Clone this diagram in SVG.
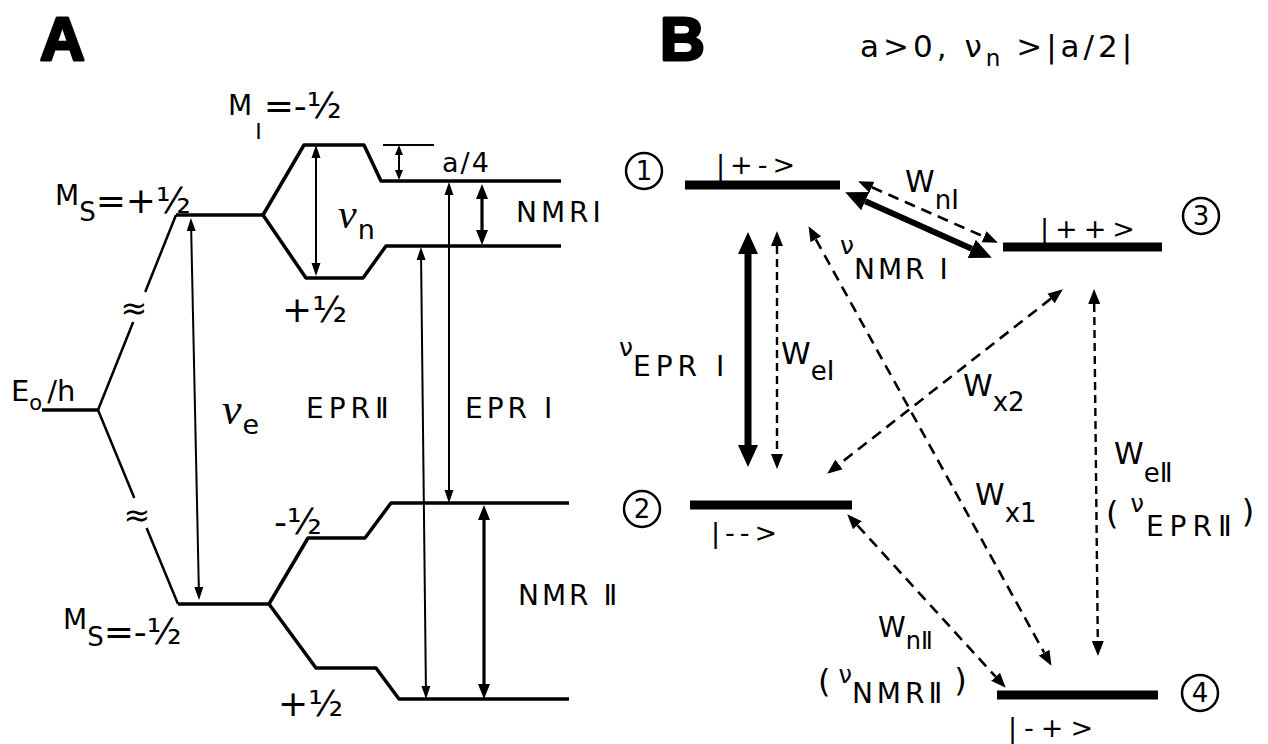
<svg xmlns="http://www.w3.org/2000/svg" width="1268" height="744" viewBox="0 0 1268 744">
<style>
.t{font-family:"DejaVu Sans","Liberation Sans",sans-serif;fill:#000}
.big{font-family:"Liberation Sans",sans-serif;font-weight:bold;font-size:62px;fill:#000;stroke:#000;stroke-width:3;stroke-linejoin:round}
.nu{font-family:"Liberation Serif",serif;font-style:italic;fill:#000}
.sub{font-family:"DejaVu Sans","Liberation Sans",sans-serif;font-style:normal}
.lv{fill:none;stroke:#000;stroke-width:3.5;stroke-linejoin:round}
.dg{fill:none;stroke:#000;stroke-width:2.5}
.bar{fill:none;stroke:#000;stroke-width:9}
.ar{fill:none;stroke:#000;stroke-width:2}
.arm{fill:none;stroke:#000;stroke-width:3.2}
.ath{fill:none;stroke:#000;stroke-width:7}
.ath2{fill:none;stroke:#000;stroke-width:6}
.da{fill:none;stroke:#000;stroke-width:2.6;stroke-dasharray:11 7}
.dv{fill:none;stroke:#000;stroke-width:2.4;stroke-dasharray:8 5}
.cir{fill:none;stroke:#000;stroke-width:2.5}
</style>
<defs>
<marker id="ha" markerUnits="userSpaceOnUse" markerWidth="16" markerHeight="12" refX="0" refY="6" orient="auto-start-reverse" viewBox="0 0 16 12"><path d="M0,1.5 L13,6 L0,10.5 z" fill="#000"/></marker>
<marker id="hs" markerUnits="userSpaceOnUse" markerWidth="12" markerHeight="10" refX="0" refY="5" orient="auto-start-reverse" viewBox="0 0 12 10"><path d="M0,1 L10,5 L0,9 z" fill="#000"/></marker>
<marker id="hm" markerUnits="userSpaceOnUse" markerWidth="18" markerHeight="14" refX="0" refY="7" orient="auto-start-reverse" viewBox="0 0 18 14"><path d="M0,1 L15,7 L0,13 z" fill="#000"/></marker>
<marker id="hb" markerUnits="userSpaceOnUse" markerWidth="24" markerHeight="22" refX="0" refY="11" orient="auto-start-reverse" viewBox="0 0 24 22"><path d="M0,1 L22,11 L0,21 z" fill="#000"/></marker>
<marker id="hd" markerUnits="userSpaceOnUse" markerWidth="17" markerHeight="13" refX="0" refY="6.5" orient="auto-start-reverse" viewBox="0 0 17 13"><path d="M0,0.5 L15,6.5 L0,12.5 z" fill="#000"/></marker>
</defs>
<rect width="1268" height="744" fill="#fff"/>

<!-- Panel A -->
<g id="panelA-title"><text class="big" x="40" y="60">A</text></g>

<g id="A-E0">
<path class="lv" d="M42,410 H98"/>
<text class="t" x="11" y="401" font-size="29">E<tspan font-size="21" dy="9">o</tspan><tspan font-size="29" dy="-9" dx="5">/h</tspan></text>
</g>

<g id="A-MS-plus">
<path class="dg" d="M176,215 L145.2,292 M133.2,322 L98,410"/>
<text class="t" x="134" y="319" font-size="32" text-anchor="middle">≈</text>
<path class="lv" d="M176,215 H263"/>
<text class="t" x="55" y="205" font-size="28">M<tspan font-size="26" dy="16">S</tspan><tspan font-size="36" dy="-8">=+½</tspan></text>
</g>

<g id="A-MS-minus">
<path class="dg" d="M98,410 L134.3,498 M146.6,528 L178,604"/>
<text class="t" x="137" y="526" font-size="32" text-anchor="middle">≈</text>
<path class="lv" d="M178,604 H269"/>
<text class="t" x="63" y="629" font-size="28">M<tspan font-size="26" dy="17">S</tspan><tspan font-size="36" dy="-2">=-½</tspan></text>
</g>

<g id="A-MI-upper">
<path class="lv" d="M263,215 L304,145 H364 L381,181 H561"/>
<path class="lv" d="M263,215 L306,278 H363 L386,246 H561"/>
<path class="ar" d="M383,145 H434"/>
<text class="t" x="228" y="115" font-size="28">M<tspan font-size="22" dy="24" dx="3">I</tspan><tspan font-size="36" dy="-21" dx="2">=-½</tspan></text>
<text class="t" x="282" y="322" font-size="36">+½</text>
<text class="t" x="442" y="172" font-size="27" letter-spacing="2">a/4</text>
</g>

<g id="A-MI-lower">
<path class="lv" d="M269,604 L308,538 H365 L391,503 H569"/>
<path class="lv" d="M269,604 L316,668 H376 L399,699 H569"/>
<text class="t" x="274" y="534" font-size="36">-½</text>
<text class="t" x="278" y="716" font-size="36">+½</text>
</g>

<g id="A-arrows">
<path class="ar" d="M191.2,231 L198.8,587" marker-start="url(#ha)" marker-end="url(#ha)"/>
<path class="ar" d="M316,158 V263" marker-start="url(#ha)" marker-end="url(#ha)"/>
<path class="ar" d="M399,155 V170" marker-start="url(#hs)" marker-end="url(#hs)"/>
<path class="arm" d="M482,199 V230" marker-start="url(#hm)" marker-end="url(#hm)"/>
<path class="ar" d="M449,195 V490" marker-start="url(#ha)" marker-end="url(#ha)"/>
<path class="ar" d="M421.1,260 L425.9,686" marker-start="url(#ha)" marker-end="url(#ha)"/>
<path class="arm" d="M484,520 V684" marker-start="url(#hm)" marker-end="url(#hm)"/>
</g>

<g id="A-labels">
<text class="nu" x="338" y="228" font-size="42">ν<tspan class="sub" font-size="27" dy="11" dx="1">n</tspan></text>
<text class="nu" x="222" y="424" font-size="44">ν<tspan class="sub" font-size="27" dy="10" dx="1">e</tspan></text>
<text class="t" x="516" y="222" font-size="28" letter-spacing="4">NMRI</text>
<text class="t" x="306" y="418" font-size="28" letter-spacing="5">EPRⅡ</text>
<text class="t" x="465" y="418" font-size="28" letter-spacing="4">EPR I</text>
<text class="t" x="518" y="605" font-size="28" letter-spacing="3">NMR Ⅱ</text>
</g>

<!-- Panel B -->
<g id="panelB-title">
<text class="big" x="660" y="60">B</text>
<text class="t" x="860" y="57" font-size="31" letter-spacing="4">a&gt;0, ν<tspan font-size="23" dy="9" letter-spacing="2">n</tspan><tspan font-size="31" dy="-9"> &gt;|a/2|</tspan></text>
</g>

<g id="state1">
<circle class="cir" cx="644" cy="171" r="18"/>
<text class="t" x="644" y="180" font-size="26" text-anchor="middle">1</text>
<path class="bar" d="M685,185 H840"/>
<text class="t" x="716" y="174" font-size="27" letter-spacing="5">|+-&gt;</text>
</g>

<g id="state3">
<circle class="cir" cx="1201" cy="216" r="18"/>
<text class="t" x="1201" y="225" font-size="26" text-anchor="middle">3</text>
<path class="bar" d="M1003,247 H1162"/>
<text class="t" x="1040" y="238" font-size="27" letter-spacing="6">|++&gt;</text>
</g>

<g id="state2">
<circle class="cir" cx="642" cy="509" r="18"/>
<text class="t" x="642" y="518" font-size="26" text-anchor="middle">2</text>
<path class="bar" d="M690,505 H852"/>
<text class="t" x="711" y="542" font-size="27" letter-spacing="5">|--&gt;</text>
</g>

<g id="state4">
<circle class="cir" cx="1200" cy="693" r="18"/>
<text class="t" x="1200" y="702" font-size="26" text-anchor="middle">4</text>
<path class="bar" d="M997,695 H1158"/>
<text class="t" x="1008" y="737" font-size="27" letter-spacing="7">|-+&gt;</text>
</g>

<g id="connectors">
<path class="ath" d="M748,254 V445" marker-start="url(#hb)" marker-end="url(#hb)"/>
<path class="dv" d="M777,246 V454" marker-start="url(#hd)" marker-end="url(#hd)"/>
<path class="ath2" d="M865.3,201.2 L971.7,248.8" marker-start="url(#hb)" marker-end="url(#hb)"/>
<path class="da" d="M871.9,187.3 L984.1,236.7" stroke-dasharray="8 5" marker-start="url(#hd)" marker-end="url(#hd)"/>
<path class="da" d="M815.8,239.3 L1044.2,652.7" marker-start="url(#hd)" marker-end="url(#hd)"/>
<path class="da" d="M1051,298.6 L839,464.4" marker-start="url(#hd)" marker-end="url(#hd)"/>
<path class="dv" d="M1094.2,304 L1097.8,641" marker-start="url(#hd)" marker-end="url(#hd)"/>
<path class="da" d="M857.4,525.3 L995.6,676.7" marker-start="url(#hd)" marker-end="url(#hd)"/>
</g>

<g id="B-labels">
<text class="t" x="619" y="356" font-size="25">ν<tspan font-size="28" dy="20" letter-spacing="5">EPR I</tspan></text>
<text class="t" x="781" y="364" font-size="30">W<tspan font-size="26" dy="16">eI</tspan></text>
<text class="t" x="840" y="254" font-size="25">ν<tspan font-size="28" dy="25" letter-spacing="3">NMR I</tspan></text>
<text class="t" x="905" y="192" font-size="30">W<tspan font-size="26" dy="17">nI</tspan></text>
<text class="t" x="963" y="396" font-size="30">W<tspan font-size="26" dy="15">x2</tspan></text>
<text class="t" x="975" y="505" font-size="30">W<tspan font-size="26" dy="17">x1</tspan></text>
<text class="t" x="1114" y="464" font-size="30">W<tspan font-size="26" dy="18">eⅡ</tspan></text>
<text class="t" x="1106" y="524" font-size="32">(<tspan font-size="24" dx="12" dy="-12">ν</tspan><tspan font-size="28" dx="2" dy="24" letter-spacing="6">EPRⅡ</tspan><tspan font-size="32" dy="-14" dx="4">)</tspan></text>
<text class="t" x="878" y="637" font-size="28">W<tspan font-size="24" dy="12">nⅡ</tspan></text>
<text class="t" x="818" y="692" font-size="32">(<tspan font-size="24" dx="8" dy="-9">ν</tspan><tspan font-size="28" dy="20" letter-spacing="4">NMRⅡ</tspan><tspan font-size="32" dy="-12" dx="8">)</tspan></text>
</g>
</svg>
